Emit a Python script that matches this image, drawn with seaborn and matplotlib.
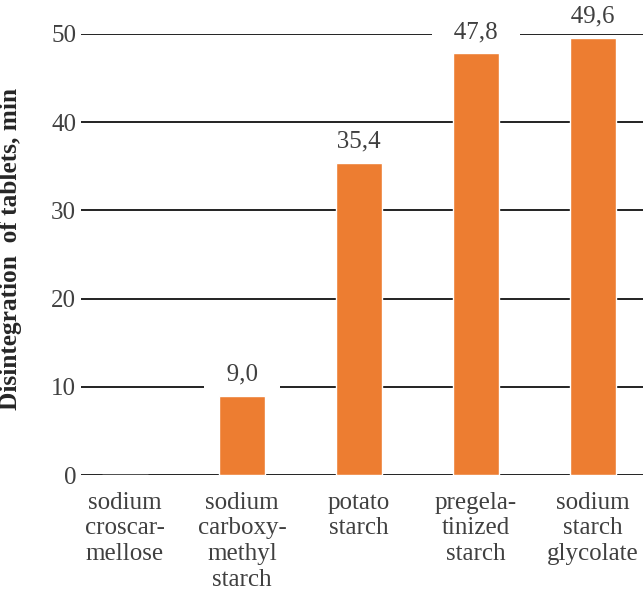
import matplotlib
matplotlib.use("Agg")
import matplotlib.pyplot as plt
import seaborn as sns
import pandas as pd

categories = [
    "sodium\ncroscar-\nmellose",
    "sodium\ncarboxy-\nmethyl\nstarch",
    "potato\nstarch",
    "pregela-\ntinized\nstarch",
    "sodium\nstarch\nglycolate",
]
values = [0.0, 9.0, 35.4, 47.8, 49.6]
value_labels = [None, "9,0", "35,4", "47,8", "49,6"]
y_ticks = [0, 10, 20, 30, 40, 50]

sns.set_theme(style="white")
plt.rcParams["font.family"] = ["Liberation Serif", "DejaVu Serif"]

BAR = "#ED7D31"
TXT = "#404040"

df = pd.DataFrame({"category": categories, "value": values})

fig = plt.figure(figsize=(6.43, 5.94), dpi=100)
ax = fig.add_axes([81 / 643, 1 - 475 / 594, 1 - 81 / 643, (475 - 34) / 594])

sns.barplot(data=df, x="category", y="value", color=BAR, width=0.39,
            saturation=1, ax=ax, zorder=3)

ax.set_ylim(0, 50)
ax.set_xlim(-0.376, 4.427)
ax.set_yticks(y_ticks)
ax.set_yticklabels([str(t) for t in y_ticks])
ax.yaxis.grid(True, color="#111111", linewidth=1.3, zorder=0)
ax.set_axisbelow(True)
for s in ax.spines.values():
    s.set_visible(False)

ax.tick_params(axis="y", length=0, pad=3.5, labelsize=18, labelcolor=TXT)
ax.tick_params(axis="x", length=0, pad=12, labelsize=18, labelcolor=TXT)
for lab in ax.get_xticklabels():
    lab.set_linespacing(1.22)
    lab.set_va("top")

ax.set_xlabel("")
ax.set_ylabel("Disintegration  of tablets, min", fontsize=18.3, fontweight="bold",
              color="#262626")
ax.yaxis.set_label_coords(-0.105, 0.512)

# value labels sit on a white box that breaks the gridline behind them
for i, (v, lab) in enumerate(zip(values, value_labels)):
    if lab is None:
        continue
    ax.annotate("   " + lab + "   ", xy=(i, v), xytext=(0, 15),
                textcoords="offset points", ha="center", va="center",
                fontsize=18, color=TXT, zorder=2,
                bbox=dict(boxstyle="square,pad=0.15", fc="white", ec="none"))

fig.savefig("out.png", dpi=100)
